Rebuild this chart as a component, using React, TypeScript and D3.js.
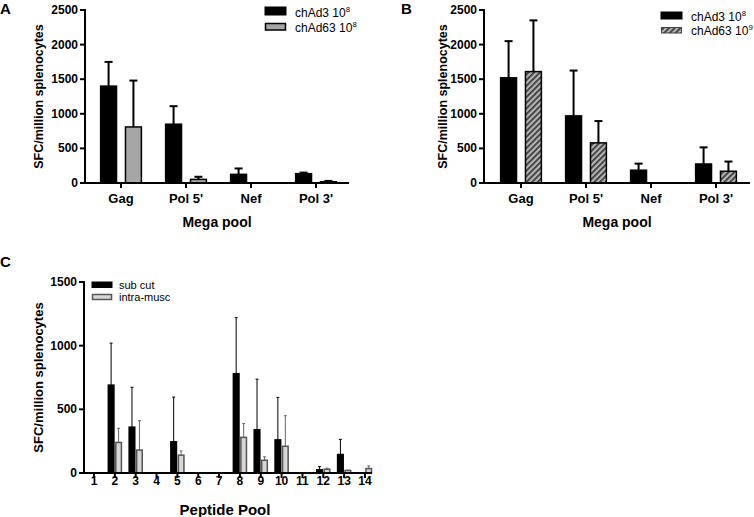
import React from "react";
import * as d3 from "d3";

// ---------- Data ----------
const megaPools = ["Gag", "Pol 5'", "Nef", "Pol 3'"];

const aChAd3 = [1400, 850, 125, 135];
const aChAd3Err = [1750, 1110, 210, 150];
const aChAd63 = [810, 52, 0, 18];
const aChAd63Err = [1480, 90, 0, 30];

const bChAd3 = [1520, 970, 185, 275];
const bChAd3Err = [2050, 1625, 280, 515];
const bChAd63 = [1610, 580, 0, 170];
const bChAd63Err = [2350, 895, 0, 310];

const peptidePools = ["1", "2", "3", "4", "5", "6", "7", "8", "9", "10", "11", "12", "13", "14"];
const subCut = [0, 690, 360, 0, 245, 0, 0, 780, 340, 260, 0, 25, 145, 0];
const subCutErr = [0, 1020, 673, 0, 596, 0, 0, 1220, 737, 594, 0, 50, 264, 0];
const intraMusc = [0, 240, 180, 0, 140, 0, 0, 280, 100, 210, 0, 30, 20, 35];
const intraMuscErr = [0, 351, 411, 0, 173, 0, 0, 388, 127, 450, 0, 38, 22, 56];

const megaTicks = [0, 500, 1000, 1500, 2000, 2500];
const peptideTicks = [0, 500, 1000, 1500];

const FONT = "'Liberation Sans', Arial, Helvetica, sans-serif";

type Series = {
  key: string;
  values: number[];
  errs: number[];
  fill: string;
  stroke: string;
  errColor: string;
};

function BarPanel(props: {
  categories: string[];
  series: Series[];
  ticks: number[];
  yMax: number;
  axisX: number;
  axisRight: number;
  bandLeft: number;
  bandRight: number;
  yTop: number;
  yZero: number;
  innerPad: number;
  outerPad: number;
  subPad: number;
  barStroke: number;
  errWidth: number;
  capW: number;
  tickFont: number;
  catFont: number;
  catBaseline: number;
  xTitle: string;
  xTitleX: number;
  xTitleY: number;
  xTitleFont: number;
  yTitleX: number;
  yTitleFont: number;
}) {
  const p = props;
  const x0 = d3
    .scaleBand<string>()
    .domain(p.categories)
    .range([p.bandLeft, p.bandRight])
    .paddingInner(p.innerPad)
    .paddingOuter(p.outerPad);
  const x1 = d3
    .scaleBand<string>()
    .domain(p.series.map((s) => s.key))
    .range([0, x0.bandwidth()])
    .paddingInner(p.subPad);
  const y = d3.scaleLinear().domain([0, p.yMax]).range([p.yZero, p.yTop]);

  return (
    <g fontFamily={FONT}>
      {p.series.map((s) =>
        p.categories.map((c, i) => {
          const v = s.values[i];
          if (!v) return null;
          const bx = (x0(c) as number) + (x1(s.key) as number);
          const bw = x1.bandwidth();
          const top = y(v);
          const cx = bx + bw / 2;
          const et = y(s.errs[i]);
          return (
            <g key={s.key + c}>
              <line x1={cx} x2={cx} y1={top} y2={et} stroke={s.errColor} strokeWidth={p.errWidth} />
              <line x1={cx - p.capW / 2} x2={cx + p.capW / 2} y1={et} y2={et} stroke={s.errColor} strokeWidth={p.errWidth} />
              <rect
                x={bx + p.barStroke / 2}
                y={top}
                width={Math.max(0, bw - p.barStroke)}
                height={Math.max(0, y(0) - top)}
                fill={s.fill}
                stroke={s.stroke}
                strokeWidth={p.barStroke}
              />
            </g>
          );
        })
      )}
      <line x1={p.axisX} x2={p.axisX} y1={y(p.yMax) - 1} y2={p.yZero + 1} stroke="#000" strokeWidth={2} />
      {p.ticks.map((t) => (
        <g key={t}>
          <line x1={p.axisX - 5} x2={p.axisX} y1={y(t)} y2={y(t)} stroke="#000" strokeWidth={2} />
          <text x={p.axisX - 7} y={y(t) + 4} textAnchor="end" fontSize={p.tickFont} fontWeight="bold">
            {t}
          </text>
        </g>
      ))}
      <line x1={p.axisX - 1} x2={p.axisRight} y1={p.yZero} y2={p.yZero} stroke="#000" strokeWidth={2} />
      {p.categories.map((c) => {
        const cx = (x0(c) as number) + x0.bandwidth() / 2;
        return (
          <g key={c}>
            <line x1={cx} x2={cx} y1={p.yZero} y2={p.yZero + 5} stroke="#000" strokeWidth={2} />
            <text x={cx} y={p.catBaseline} textAnchor="middle" fontSize={p.catFont} fontWeight="bold">
              {c}
            </text>
          </g>
        );
      })}
      <text x={p.xTitleX} y={p.xTitleY} textAnchor="middle" fontSize={p.xTitleFont} fontWeight="bold">
        {p.xTitle}
      </text>
      <text
        transform={`translate(${p.yTitleX},${(p.yZero + y(p.yMax)) / 2}) rotate(-90)`}
        textAnchor="middle"
        fontSize={p.yTitleFont}
        fontWeight="bold"
      >
        SFC/million splenocytes
      </text>
    </g>
  );
}

function LegendItem(props: {
  x: number;
  y: number;
  w: number;
  h: number;
  fill: string;
  stroke: string;
  sw: number;
  label: string;
  sup?: string;
  tx: number;
  ty: number;
  fs: number;
}) {
  const p = props;
  return (
    <g fontFamily={FONT}>
      <rect x={p.x} y={p.y} width={p.w} height={p.h} fill={p.fill} stroke={p.stroke} strokeWidth={p.sw} />
      <text x={p.tx} y={p.ty} fontSize={p.fs}>
        {p.label}
        {p.sup ? (
          <tspan dy={-5} fontSize={p.fs * 0.65}>
            {p.sup}
          </tspan>
        ) : null}
      </text>
    </g>
  );
}

export default function App() {
  const common = {
    ticks: megaTicks,
    yMax: 2500,
    yTop: 10,
    yZero: 183,
    innerPad: 0.35,
    outerPad: 0.175,
    subPad: 0.3,
    barStroke: 1.5,
    errWidth: 2,
    capW: 8,
    tickFont: 12,
    catFont: 13,
    catBaseline: 203,
    xTitle: "Mega pool",
    xTitleY: 227,
    xTitleFont: 14,
    yTitleFont: 12.5,
  };
  return (
    <svg
      width={754}
      height={517}
      viewBox="0 0 754 517"
      style={{ position: "absolute", left: 0, top: 0, background: "#fff" }}
    >
      <defs>
        <pattern id="hatch" patternUnits="userSpaceOnUse" width={4} height={4} patternTransform="rotate(45)">
          <rect x={0} y={0} width={4} height={4} fill="#b4b4b4" />
          <rect x={0} y={0} width={1.8} height={4} fill="#3c3c3c" />
        </pattern>
      </defs>
      <rect x={0} y={0} width={754} height={517} fill="#fff" />

      {/* Panel A */}
      <text x={0} y={14} fontFamily={FONT} fontSize={15} fontWeight="bold">A</text>
      <BarPanel
        {...common}
        categories={megaPools}
        series={[
          { key: "chAd3", values: aChAd3, errs: aChAd3Err, fill: "#000", stroke: "#000", errColor: "#000" },
          { key: "chAd63", values: aChAd63, errs: aChAd63Err, fill: "#a6a6a6", stroke: "#000", errColor: "#000" },
        ]}
        axisX={85}
        axisRight={349}
        bandLeft={88.5}
        bandRight={348.5}
        xTitleX={217}
        yTitleX={42.5}
      />
      <LegendItem x={265} y={7} w={21} h={8} fill="#000" stroke="#000" sw={1} label="chAd3 10" sup="8" tx={295} ty={16.5} fs={12} />
      <LegendItem x={265.5} y={23.5} w={20} h={6.5} fill="#a6a6a6" stroke="#000" sw={1.5} label="chAd63 10" sup="8" tx={295} ty={31.5} fs={12} />

      {/* Panel B */}
      <text x={401} y={14} fontFamily={FONT} fontSize={15} fontWeight="bold">B</text>
      <BarPanel
        {...common}
        categories={megaPools}
        series={[
          { key: "chAd3", values: bChAd3, errs: bChAd3Err, fill: "#000", stroke: "#000", errColor: "#000" },
          { key: "chAd63", values: bChAd63, errs: bChAd63Err, fill: "url(#hatch)", stroke: "#000", errColor: "#000" },
        ]}
        axisX={484}
        axisRight={750}
        bandLeft={488.5}
        bandRight={748.5}
        xTitleX={617}
        yTitleX={446.5}
      />
      <LegendItem x={661} y={12} w={21} h={7} fill="#000" stroke="#000" sw={1} label="chAd3 10" sup="8" tx={691} ty={20.5} fs={12} />
      <LegendItem x={661.5} y={27.5} w={20} h={5.5} fill="url(#hatch)" stroke="#444" sw={1} label="chAd63 10" sup="9" tx={691} ty={35} fs={12} />

      {/* Panel C */}
      <text x={0} y={267} fontFamily={FONT} fontSize={15} fontWeight="bold">C</text>
      <BarPanel
        categories={peptidePools}
        series={[
          { key: "sub", values: subCut, errs: subCutErr, fill: "#000", stroke: "#000", errColor: "#000" },
          { key: "intra", values: intraMusc, errs: intraMuscErr, fill: "#d6d6d6", stroke: "#555", errColor: "#666" },
        ]}
        ticks={peptideTicks}
        yMax={1500}
        yTop={282}
        yZero={473}
        axisX={84}
        axisRight={372}
        bandLeft={83.6}
        bandRight={375.4}
        innerPad={0.3}
        outerPad={0.15}
        subPad={0.05}
        barStroke={1.5}
        errWidth={1}
        capW={3}
        tickFont={12}
        catFont={12}
        catBaseline={485}
        xTitle="Peptide Pool"
        xTitleX={225}
        xTitleY={515}
        xTitleFont={15}
        yTitleX={43}
        yTitleFont={13}
      />
      <LegendItem x={92} y={282} w={20} h={5.5} fill="#000" stroke="#000" sw={1} label="sub cut" tx={119} ty={288.5} fs={11} />
      <LegendItem x={92.5} y={294.5} w={19} h={5} fill="#d6d6d6" stroke="#555" sw={1.5} label="intra-musc" tx={119} ty={300.5} fs={11} />
    </svg>
  );
}
